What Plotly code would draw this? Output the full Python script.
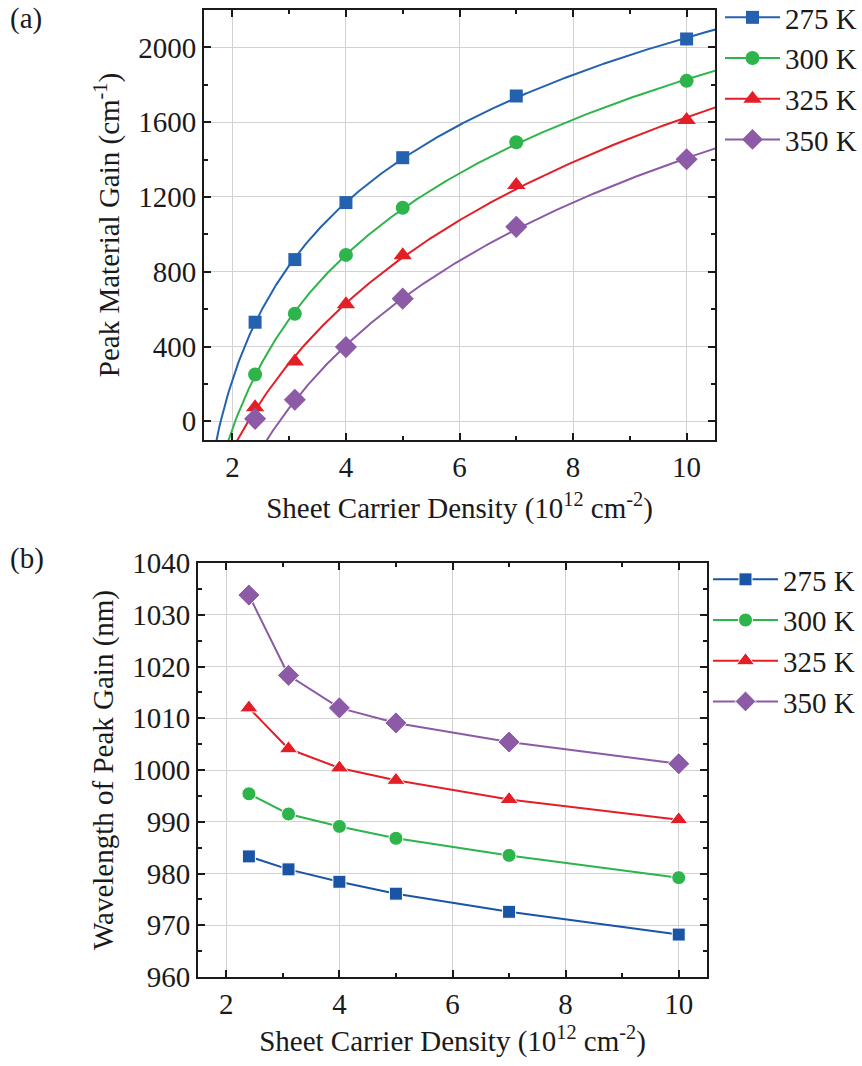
import numpy as np
import plotly.graph_objects as go

# ---------------- data ----------------
density = [2.4, 3.1, 4.0, 5.0, 7.0, 10.0]
temps = ["275 K", "300 K", "325 K", "350 K"]

gain_275 = [530, 865, 1170, 1410, 1740, 2045]
gain_300 = [250, 575, 890, 1142, 1493, 1821]
gain_325 = [75, 320, 626, 888, 1264, 1612]
gain_350 = [13, 115, 397, 656, 1040, 1402]

wl_275 = [983.3, 980.8, 978.4, 976.1, 972.6, 968.2]
wl_300 = [995.4, 991.5, 989.1, 986.8, 983.5, 979.2]
wl_325 = [1012.0, 1004.1, 1000.4, 998.0, 994.3, 990.4]
wl_350 = [1033.8, 1018.3, 1012.0, 1009.1, 1005.4, 1001.2]

gains = [gain_275, gain_300, gain_325, gain_350]
wls = [wl_275, wl_300, wl_325, wl_350]
fit_first_point = [0, 0, 0, 1]   # the 350 K fit in the reference ignores its first point

colors_a = ["#2462b0", "#2db44a", "#e41e26", "#8c5aa6"]
colors_b = ["#1a55a5", "#2db44a", "#e41e26", "#8c5aa6"]
symbols = ["square", "circle", "triangle-up", "diamond"]
msizes = [13, 14, 16, 17]

FONT = "Liberation Serif, 'Times New Roman', Times, DejaVu Serif, serif"
INK = "#1a1a1a"


def log_fit(x, y):
    """Least squares fit of g = a*ln(N + s) + b, scanning s."""
    x = np.asarray(x, float)
    y = np.asarray(y, float)
    best = None
    for s in np.arange(-1.45, 8.0, 0.01):
        L = np.log(x + s)
        A = np.vstack([L, np.ones_like(L)]).T
        coef, *_ = np.linalg.lstsq(A, y, rcond=None)
        r = np.sum((A @ coef - y) ** 2)
        if best is None or r < best[0]:
            best = (r, s, coef)
    return best[1], best[2]


fig = go.Figure()

xfit = np.linspace(1.5, 10.6, 500)
for i in range(4):
    k = fit_first_point[i]
    s, (a, b) = log_fit(density[k:], gains[i][k:])
    with np.errstate(invalid="ignore", divide="ignore"):
        yfit = a * np.log(xfit + s) + b
    fig.add_trace(go.Scatter(x=xfit, y=yfit, mode="lines",
                             line=dict(color=colors_a[i], width=2),
                             showlegend=False, hoverinfo="skip",
                             xaxis="x", yaxis="y"))
for i in range(4):
    fig.add_trace(go.Scatter(x=density, y=gains[i], mode="markers",
                             marker=dict(symbol=symbols[i], size=msizes[i], color=colors_a[i]),
                             showlegend=False, xaxis="x", yaxis="y"))
    # legend entry (line + marker)
    fig.add_trace(go.Scatter(x=[None], y=[None], mode="lines+markers", name=temps[i],
                             line=dict(color=colors_a[i], width=2),
                             marker=dict(symbol=symbols[i], size=msizes[i], color=colors_a[i]),
                             legend="legend", xaxis="x", yaxis="y"))

for i in range(4):
    fig.add_trace(go.Scatter(x=density, y=wls[i], mode="lines+markers", name=temps[i],
                             line=dict(color=colors_b[i], width=2),
                             marker=dict(symbol=symbols[i], size=msizes[i], color=colors_b[i],
                                         line=dict(color="white", width=1)),
                             legend="legend2", xaxis="x2", yaxis="y2"))

W, H = 862, 1066
axis_common = dict(showline=True, linecolor=INK, linewidth=2, mirror="ticks",
                   ticks="inside", ticklen=7, tickwidth=2, tickcolor=INK,
                   showgrid=True, gridcolor="#d2d2d2", gridwidth=1, zeroline=False,
                   automargin=False,
                   tickfont=dict(family=FONT, size=29, color=INK))
minor_common = dict(ticks="inside", ticklen=4, tickwidth=2, tickcolor=INK, showgrid=False)

fig.update_layout(
    width=W, height=H, margin=dict(l=0, r=0, t=0, b=0, autoexpand=False),
    paper_bgcolor="white", plot_bgcolor="white",
    font=dict(family=FONT, color=INK),
    xaxis=dict(domain=[204 / W, 715 / W], anchor="y", range=[1.5, 10.5], dtick=2,
               minor=dict(dtick=1, **minor_common),
               title=dict(text="Sheet Carrier Density (10<sup>12</sup> cm<sup>-2</sup>)",
                          font=dict(family=FONT, size=29), standoff=16),
               **axis_common),
    yaxis=dict(domain=[1 - 440 / H, 1 - 10 / H], anchor="x", range=[-100, 2200], dtick=400,
               minor=dict(dtick=200, **minor_common),
               title=dict(text="Peak Material Gain (cm<sup>-1</sup>)",
                          font=dict(family=FONT, size=29), standoff=10),
               **axis_common),
    xaxis2=dict(domain=[198 / W, 707 / W], anchor="y2", range=[1.5, 10.5], dtick=2,
                minor=dict(dtick=1, **minor_common),
                title=dict(text="Sheet Carrier Density (10<sup>12</sup> cm<sup>-2</sup>)",
                           font=dict(family=FONT, size=29), standoff=12),
                **axis_common),
    yaxis2=dict(domain=[1 - 977 / H, 1 - 563 / H], anchor="x2", range=[960, 1040], dtick=10,
                minor=dict(dtick=5, **minor_common),
                title=dict(text="Wavelength of Peak Gain (nm)",
                           font=dict(family=FONT, size=29), standoff=10),
                **axis_common),
    legend=dict(x=720 / W, y=1 + 8 / H, xanchor="left", yanchor="top",
                font=dict(family=FONT, size=29, color=INK), bgcolor="rgba(0,0,0,0)",
                itemwidth=55, tracegroupgap=0),
    legend2=dict(x=708 / W, y=1 - 554 / H, xanchor="left", yanchor="top",
                 font=dict(family=FONT, size=29, color=INK), bgcolor="rgba(0,0,0,0)",
                 itemwidth=65, tracegroupgap=0),
    annotations=[
        dict(text="(a)", x=8 / W, y=1 - 18 / H, xref="paper", yref="paper", xanchor="left",
             yanchor="middle", showarrow=False, font=dict(family=FONT, size=29, color=INK)),
        dict(text="(b)", x=8 / W, y=1 - 558 / H, xref="paper", yref="paper", xanchor="left",
             yanchor="middle", showarrow=False, font=dict(family=FONT, size=29, color=INK)),
    ],
)

fig.write_html("out.html")
